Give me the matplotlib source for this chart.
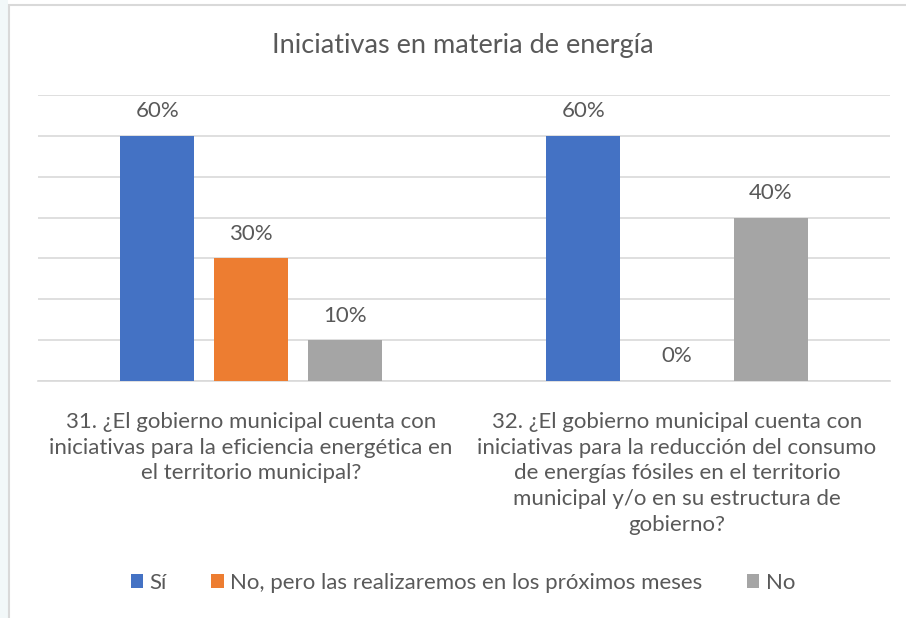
import matplotlib.pyplot as plt
from matplotlib.patches import Rectangle
import numpy as np

plt.rcParams['font.family'] = ['Lato', 'DejaVu Sans']

categories = [
    "31. ¿El gobierno municipal cuenta con\niniciativas para la eficiencia energética en\nel territorio municipal?",
    "32. ¿El gobierno municipal cuenta con\niniciativas para la reducción del consumo\nde energías fósiles en el territorio\nmunicipal y/o en su estructura de\ngobierno?",
]
series_names = ["Sí", "No, pero las realizaremos en los próximos meses", "No"]
si = [0.60, 0.60]
no_pero = [0.30, 0.00]
no = [0.10, 0.40]
colors = ["#4472c4", "#ed7d31", "#a5a5a5"]
text_col = "#595959"

fig = plt.figure(figsize=(9.06, 6.18), dpi=100)
W, H = 906, 618

# faint background strip and chart border
fig.patches.append(Rectangle((0, 0), 8 / W, 1, transform=fig.transFigure,
                             facecolor="#f2f8f9", edgecolor="none", zorder=-2))
fig.patches.append(Rectangle((8.5 / W, -0.1), 1.2, 1 - 5.5 / H + 0.1, transform=fig.transFigure,
                             facecolor="white", edgecolor="#d9d9d9", lw=1.5, zorder=-1))

ax = fig.add_axes([38 / W, (H - 381) / H, (890 - 38) / W, (381 - 95) / H])
ax.set_facecolor("none")

x = np.arange(len(categories))
width = 0.174
offsets = [-0.22, 0.0, 0.22]
for vals, off, name, c in zip([si, no_pero, no], offsets, series_names, colors):
    bars = ax.bar(x + off, vals, width, color=c, label=name, zorder=3)
    for b, v in zip(bars, vals):
        ax.text(b.get_x() + b.get_width() / 2, v + 0.06, f"{v:.0%}",
                ha="center", va="center", fontsize=16, color=text_col)

ax.set_xlim(-0.5, 1.5)
ax.set_ylim(0, 0.7)
ax.set_yticks(np.arange(0, 0.71, 0.1))
ax.yaxis.grid(True, color="#d9d9d9", lw=1.2, zorder=0)
ax.tick_params(left=False, bottom=False, labelleft=False)
for s in ["top", "right", "left"]:
    ax.spines[s].set_visible(False)
ax.spines["bottom"].set_color("#d9d9d9")
ax.spines["bottom"].set_linewidth(1.2)
ax.set_xticks(x)
ax.set_xticklabels(categories, fontsize=16, color=text_col, va="top", linespacing=1.35)
ax.tick_params(axis="x", pad=19)

fig.text(463 / W, 1 - 46 / H, "Iniciativas en materia de energía", ha="center", va="center",
         fontsize=19.5, color=text_col)

leg = fig.legend(loc="center", bbox_to_anchor=(463 / W, 1 - 583 / H), ncol=3, frameon=False,
                 fontsize=16, handlelength=0.55, handleheight=0.55, handletextpad=0.3,
                 columnspacing=2.0)
for t in leg.get_texts():
    t.set_color(text_col)

fig.savefig("out.png", dpi=100)
